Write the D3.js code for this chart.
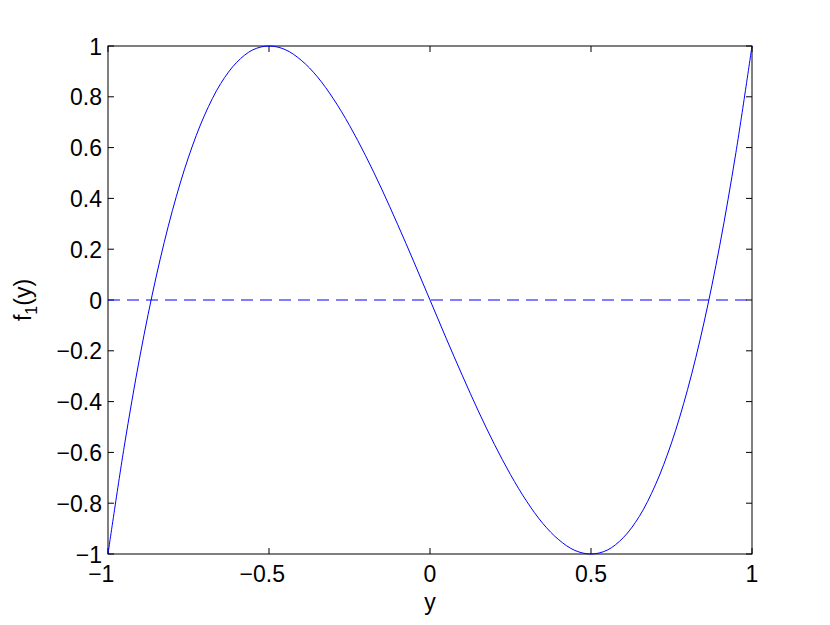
<!DOCTYPE html>
<html><head><meta charset="utf-8">
<script src="https://cdn.jsdelivr.net/npm/d3@7"></script>
<style>body{margin:0;background:#fff}svg{display:block}text{font-family:"Liberation Sans",Arial,Helvetica,sans-serif}</style>
</head><body>
<script>
const xs = [-1,-0.95,-0.9,-0.85,-0.8,-0.75,-0.7,-0.65,-0.6,-0.55,-0.5,-0.45,-0.4,-0.35,-0.3,-0.25,-0.2,-0.15,-0.1,-0.05,0,0.05,0.1,0.15,0.2,0.25,0.3,0.35,0.4,0.45,0.5,0.55,0.6,0.65,0.7,0.75,0.8,0.85,0.9,0.95,1];
const ys = [-1,-0.58,-0.216,0.094,0.352,0.5625,0.728,0.852,0.936,0.985,1,0.986,0.944,0.879,0.792,0.6875,0.568,0.437,0.296,0.15,0,-0.15,-0.296,-0.437,-0.568,-0.6875,-0.792,-0.879,-0.944,-0.986,-1,-0.985,-0.936,-0.852,-0.728,-0.5625,-0.352,-0.094,0.216,0.58,1];
const xTicks = [-1,-0.5,0,0.5,1];
const yTicks = [-1,-0.8,-0.6,-0.4,-0.2,0,0.2,0.4,0.6,0.8,1];
const refLine = [[-1,0],[1,0]];

const W=830,H=625, L=108,R=752,T=46,B=554;
const svg=d3.select("body").append("svg").attr("width",W).attr("height",H);
const x=d3.scaleLinear().domain([-1,1]).range([L,R]);
const y=d3.scaleLinear().domain([-1,1]).range([B,T]);
const num=d=>String(Math.abs(d));
const fs=23;
const tl=6;
const g=svg.append("g").attr("stroke","#000").attr("stroke-width",1);
xTicks.forEach(t=>{
  g.append("line").attr("x1",x(t)).attr("x2",x(t)).attr("y1",B).attr("y2",B-tl);
  g.append("line").attr("x1",x(t)).attr("x2",x(t)).attr("y1",T).attr("y2",T+tl);
});
yTicks.forEach(t=>{
  g.append("line").attr("x1",L).attr("x2",L+tl).attr("y1",y(t)).attr("y2",y(t));
  g.append("line").attr("x1",R).attr("x2",R-tl).attr("y1",y(t)).attr("y2",y(t));
});
svg.append("rect").attr("x",L).attr("y",T).attr("width",R-L).attr("height",B-T).attr("fill","none").attr("stroke","#000").attr("stroke-width",1);
// x tick labels: digits centred on the tick, minus hanging to the left
xTicks.forEach(t=>{
  const txt=svg.append("text").attr("x",x(t)).attr("y",582).attr("text-anchor","middle").attr("font-size",fs).text(num(t));
  if(t<0){
    const w=txt.node().getComputedTextLength();
    svg.append("text").attr("x",x(t)-w/2).attr("y",582).attr("text-anchor","end").attr("font-size",fs).text("\u2212");
  }
});
svg.selectAll(".yl").data(yTicks).enter().append("text").attr("x",L-6).attr("y",d=>y(d)+8.5).attr("text-anchor","end").attr("font-size",fs).text(d=>(d<0?"\u2212":"")+num(d));
svg.append("text").attr("x",(L+R)/2).attr("y",610).attr("text-anchor","middle").attr("font-size",fs).text("y");
const yl=svg.append("text").attr("transform","translate(31,300) rotate(-90)").attr("text-anchor","middle").attr("font-size",fs);
yl.append("tspan").text("f");
yl.append("tspan").attr("font-size",16).attr("dy",6).text("1");
yl.append("tspan").attr("dy",-6).text("(y)");
const line=d3.line().x(d=>x(d[0])).y(d=>y(d[1]));
svg.append("path").attr("d",line(refLine)).attr("fill","none").attr("stroke","#0000ff").attr("stroke-width",1).attr("stroke-dasharray","12,7");
svg.append("path").attr("d",line.curve(d3.curveCatmullRom)(xs.map((v,i)=>[v,ys[i]]))).attr("fill","none").attr("stroke","#0000ff").attr("stroke-width",1);
</script>
</body></html>
